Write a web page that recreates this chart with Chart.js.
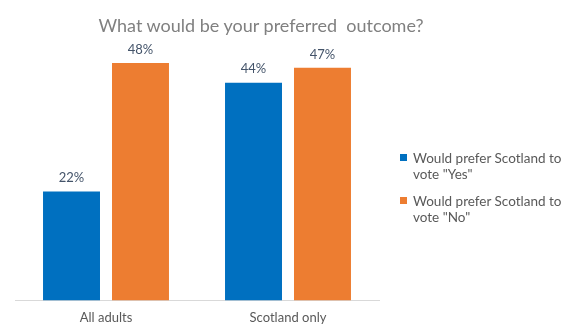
<!DOCTYPE html>
<html>
<head>
<meta charset="utf-8">
<script src="https://cdn.jsdelivr.net/npm/chart.js@4/dist/chart.umd.min.js"></script>
<style>
  body { margin: 0; background: #fff; }
  #wrap { position: relative; width: 576px; height: 336px; font-family: Lato, "Open Sans", sans-serif; }
  #title { position: absolute; top: 14px; left: 0; width: 522px; text-align: center; font-size: 18px; color: #808080; white-space: pre; }
  #legend { position: absolute; left: 400px; top: 150px; width: 175px; font-size: 13.5px; color: #595959; }
  .item { position: relative; padding-left: 13px; line-height: 16px; margin-bottom: 11px; }
  .swatch { position: absolute; left: 0; top: 4px; width: 7px; height: 7px; }
</style>
</head>
<body>
<div id="wrap">
  <canvas id="prefChart" width="576" height="336"></canvas>
  <div id="title">What would be your preferred  outcome?</div>
  <div id="legend"></div>
</div>
<script>
const categories = ["All adults", "Scotland only"];
const seriesNames = ['Would prefer Scotland to vote "Yes"', 'Would prefer Scotland to vote "No"'];
const yesValues = [22, 44];
const noValues = [48, 47];
const colors = ["#0070C0", "#ED7D31"];

// draws the "22%" labels above each bar
const barLabels = {
    id: "barLabels",
    afterDatasetsDraw(chart) {
        const ctx = chart.ctx;
        ctx.save();
        ctx.font = "13px Lato";
        ctx.fillStyle = "#44546A";
        ctx.textAlign = "center";
        ctx.textBaseline = "bottom";
        chart.data.datasets.forEach((ds, i) => {
            chart.getDatasetMeta(i).data.forEach((bar, j) => {
                ctx.fillText(ds.data[j] + "%", bar.x, bar.y - 7);
            });
        });
        ctx.restore();
    },
};

const ctx = document.querySelector("#prefChart");
const chart = new Chart(ctx, {
    type: "bar",
    data: {
        labels: categories,
        datasets: [
            { label: seriesNames[0], data: yesValues, backgroundColor: colors[0] },
            { label: seriesNames[1], data: noValues, backgroundColor: colors[1] },
        ],
    },
    options: {
        responsive: false,
        animation: false,
        layout: { padding: { left: 15, right: 197, top: 53, bottom: 0 } },
        categoryPercentage: 0.758,
        barPercentage: 0.826,
        plugins: {
            legend: { display: false },
            tooltip: { enabled: false },
        },
        scales: {
            x: {
                grid: { display: false, drawTicks: false },
                border: { display: true, color: "#D9D9D9", width: 1 },
                ticks: { color: "#595959", font: { family: "Lato", size: 13 }, padding: 10 },
            },
            y: { display: false, min: 0, max: 50 },
        },
    },
    plugins: [barLabels],
});

const legend = document.querySelector("#legend");
chart.data.datasets.forEach((ds) => {
    const item = document.createElement("div");
    item.className = "item";
    item.innerHTML = '<span class="swatch" style="background:' + ds.backgroundColor + '"></span>';
    item.appendChild(document.createTextNode(ds.label));
    legend.appendChild(item);
});
</script>
</body>
</html>
